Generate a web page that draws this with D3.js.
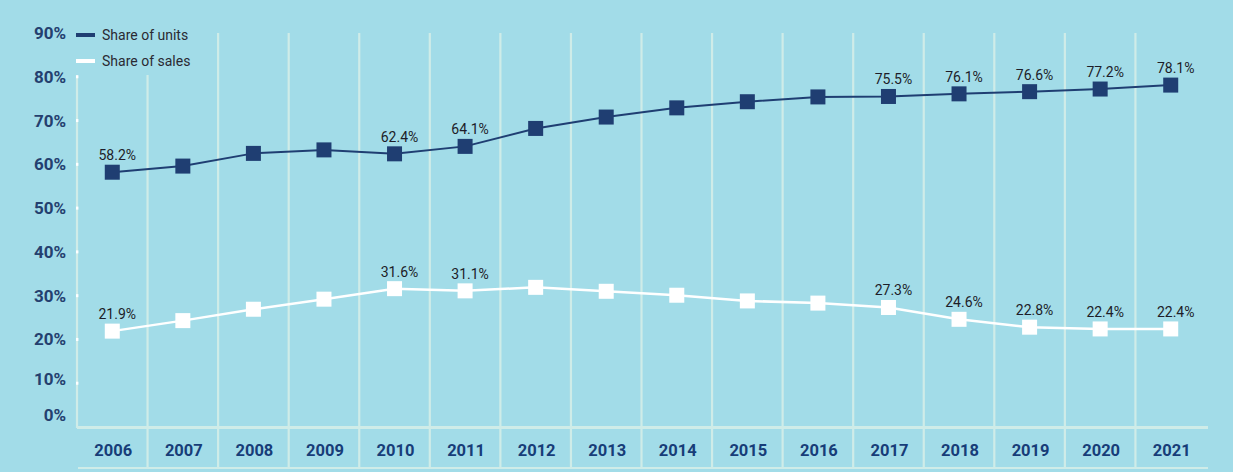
<!DOCTYPE html>
<html>
<head>
<meta charset="utf-8">
<script src="https://cdn.jsdelivr.net/npm/d3@7"></script>
<style>
  html, body { margin: 0; padding: 0; background: #a2dce8; }
  svg { display: block; }
</style>
</head>
<body>
<svg id="chart" width="1233" height="472"></svg>
<script>
const years = ['2006','2007','2008','2009','2010','2011','2012','2013','2014','2015','2016','2017','2018','2019','2020','2021'];
const unitsShare = [58.2, 59.6, 62.5, 63.3, 62.4, 64.1, 68.2, 70.8, 72.9, 74.3, 75.4, 75.5, 76.1, 76.6, 77.2, 78.1];
const salesShare = [21.9, 24.3, 26.9, 29.2, 31.6, 31.1, 31.9, 31.0, 30.1, 28.8, 28.3, 27.3, 24.6, 22.8, 22.4, 22.4];
const labeledYears = ['2006','2010','2011','2017','2018','2019','2020','2021'];
const yTicks = [0, 10, 20, 30, 40, 50, 60, 70, 80, 90];
const seriesNames = ['Share of units', 'Share of sales'];

const BG = '#a2dce8', GRID = '#cfece8', DARK = '#1f3e72';
const svg = d3.select('#chart');
svg.append('rect').attr('width', 1233).attr('height', 472).attr('fill', BG);

const x = d3.scaleBand().domain(years).range([77, 1206]).padding(0);
const y = d3.scaleLinear().domain([0, 90]).range([427, 33]);

// vertical gridlines (category borders)
const g = svg.append('g');
years.forEach((yr, i) => {
  if (i === 0) return;
  g.append('line')
    .attr('x1', x(yr)).attr('x2', x(yr))
    .attr('y1', y(90)).attr('y2', 468)
    .attr('stroke', GRID).attr('stroke-width', 2.2);
});
// left axis line
g.append('line').attr('x1', 77).attr('x2', 77).attr('y1', y(90)).attr('y2', 428)
  .attr('stroke', GRID).attr('stroke-width', 2.2);
// small white ticks on the left axis
yTicks.filter(v => v > 0 && v < 90).forEach(v => {
  g.append('rect').attr('x', 76).attr('y', y(v) - 1.5).attr('width', 2.4).attr('height', 3).attr('fill', '#ffffff');
});
// bottom axis lines
g.append('line').attr('x1', 77).attr('x2', 1208).attr('y1', 427.5).attr('y2', 427.5)
  .attr('stroke', GRID).attr('stroke-width', 3);
g.append('line').attr('x1', 78).attr('x2', 1208).attr('y1', 468).attr('y2', 468)
  .attr('stroke', GRID).attr('stroke-width', 2);

// legend background covering grid lines
svg.append('rect').attr('x', 70).attr('y', 18).attr('width', 135).attr('height', 57).attr('fill', BG);

// y axis labels
const yLab = svg.append('g');
yTicks.forEach(v => {
  let dy = 0;
  if (v === 0) dy = -12;
  if (v === 10) dy = -4;
  yLab.append('text')
    .attr('x', 66).attr('y', y(v) + dy)
    .attr('dy', '0.35em')
    .attr('text-anchor', 'end')
    .attr('font-family', 'Roboto, sans-serif')
    .attr('font-weight', 700)
    .attr('font-size', 17)
    .attr('fill', '#24406f')
    .text(v + '%');
});

// x axis labels
years.forEach(yr => {
  svg.append('text')
    .attr('x', x(yr) + x.bandwidth() / 2 + 1)
    .attr('y', 450).attr('dy', '0.35em')
    .attr('text-anchor', 'middle')
    .attr('font-family', 'Roboto, sans-serif')
    .attr('font-weight', 700)
    .attr('font-size', 16.5)
    .attr('fill', '#173d78')
    .text(yr);
});

const cx = yr => x(yr) + x.bandwidth() / 2;
const line = d3.line().x((d, i) => cx(years[i])).y(d => y(d));

function drawSeries(values, color, width) {
  svg.append('path').datum(values)
    .attr('d', line).attr('fill', 'none')
    .attr('stroke', color).attr('stroke-width', width);
  svg.append('g').selectAll('rect').data(values).join('rect')
    .attr('x', (d, i) => cx(years[i]) - 7.5)
    .attr('y', d => y(d) - 7.5)
    .attr('width', 15).attr('height', 15)
    .attr('fill', color);
  svg.append('g').selectAll('text').data(values.map((v, i) => ({v, yr: years[i]})).filter(d => labeledYears.includes(d.yr)))
    .join('text')
    .attr('x', d => cx(d.yr) + 5)
    .attr('y', d => y(d.v) - 12)
    .attr('text-anchor', 'middle')
    .attr('font-family', 'Roboto, sans-serif')
    .attr('font-size', 14)
    .attr('fill', '#1d1d28')
    .text(d => d.v.toFixed(1) + '%');
}
drawSeries(unitsShare, DARK, 2);
drawSeries(salesShare, '#ffffff', 2.5);

// legend
const legColors = [DARK, '#ffffff'];
seriesNames.forEach((name, i) => {
  const ly = 35 + i * 26;
  svg.append('rect').attr('x', 76).attr('y', ly - 2).attr('width', 19).attr('height', 4).attr('fill', legColors[i]);
  svg.append('text').attr('x', 102).attr('y', ly).attr('dy', '0.35em')
    .attr('font-family', 'Roboto, sans-serif').attr('font-size', 14)
    .attr('fill', '#2a2a33').text(name);
});
</script>
</body>
</html>
